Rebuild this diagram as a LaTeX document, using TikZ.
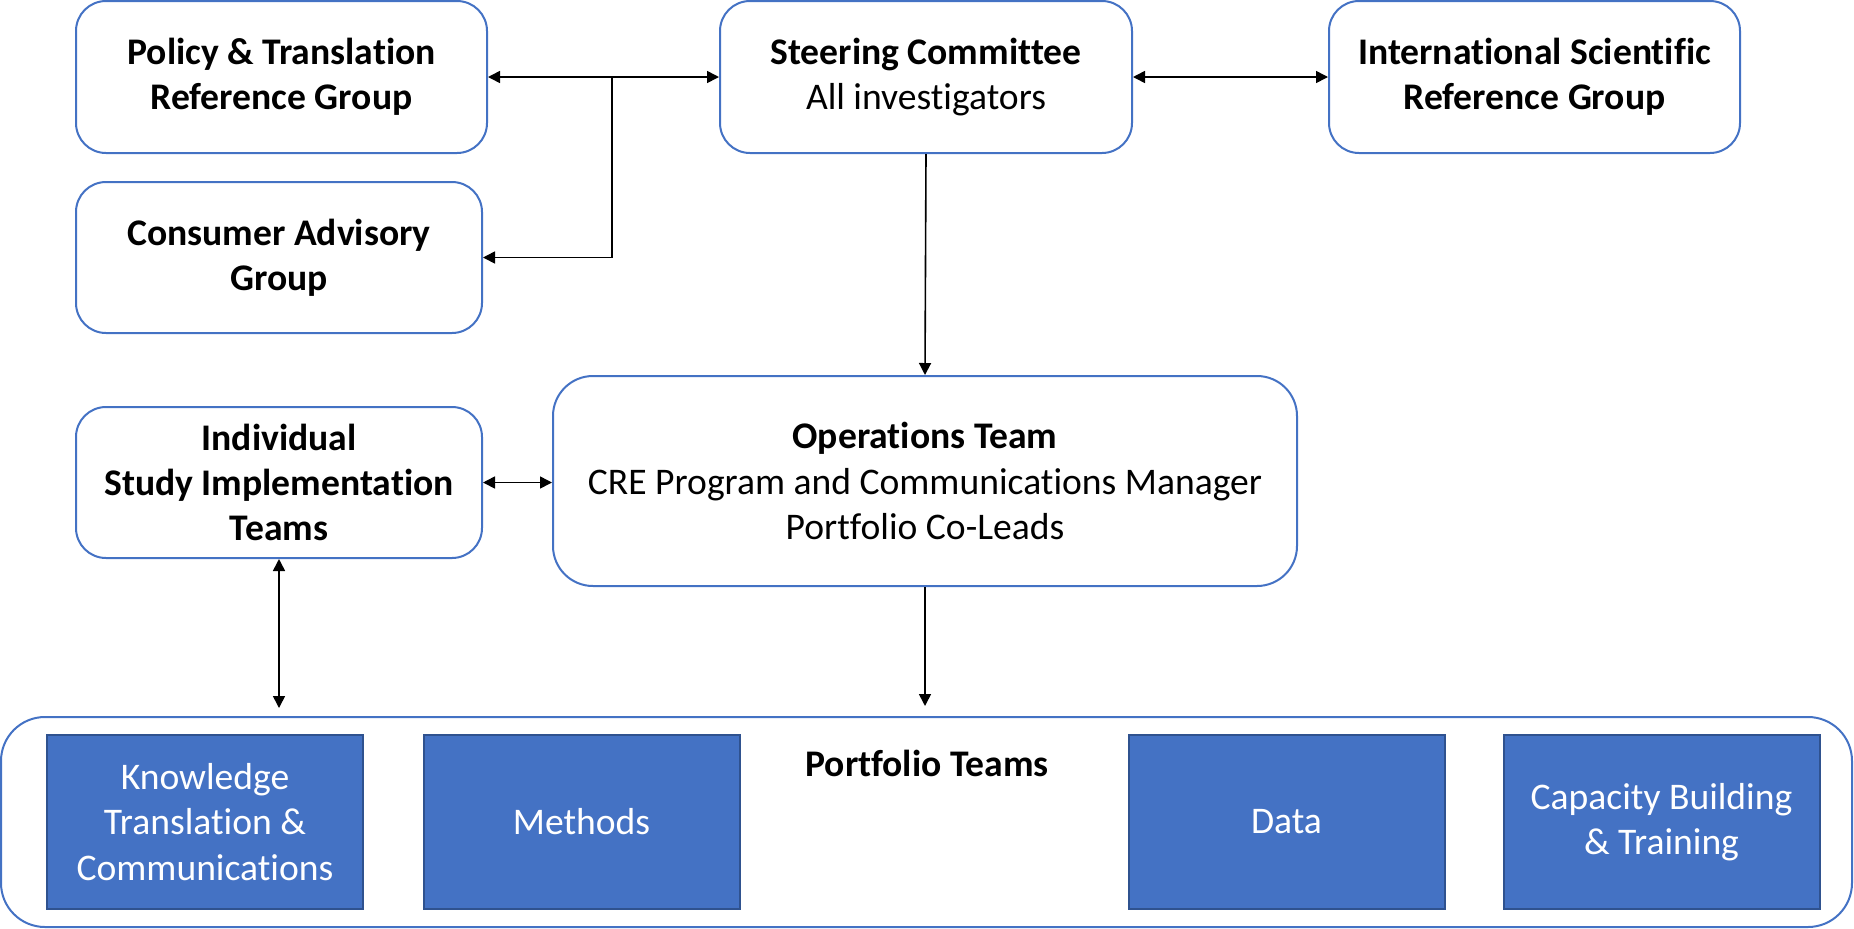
\documentclass[tikz,border=0pt]{standalone}
\usepackage{fontspec}
\setmainfont{Carlito}[Ligatures={NoCommon}]
\usetikzlibrary{arrows.meta}
\usetikzlibrary{positioning}

\definecolor{boxblue}{HTML}{4472C4}
\definecolor{darkblue}{HTML}{2F528F}

\tikzset{
  txt/.style={font=\fontsize{18.8pt}{22.6pt}\selectfont, align=center},
  group/.style={txt, draw=boxblue, line width=1pt, rounded corners=15pt, inner sep=0pt},
  team/.style={txt, draw=darkblue, fill=boxblue, text=white, line width=1pt,
    minimum width=158pt, minimum height=87pt, inner sep=0pt},
  link/.style={line width=0.8pt}
}

\begin{document}
\begin{tikzpicture}[x=0.5pt,y=-0.5pt,>={Triangle[length=6pt,width=6pt]}]
\useasboundingbox (0,0) rectangle (1854,928);
% top row
\node[group, minimum width=205.5pt, minimum height=76pt] (policy) at (281.5,77)
  {\textbf{Policy \& Translation}\\\textbf{Reference Group}};
\node[group, minimum width=206pt, minimum height=76pt] (steer) at (926,77)
  {\textbf{Steering Committee}\\All investigators};
\node[group, minimum width=205.5pt, minimum height=76pt] (intl) at (1534.5,77)
  {\textbf{International Scientific}\\\textbf{Reference Group}};
% left column
\node[group, minimum width=203pt, minimum height=75.5pt] (consumer) at (279,257.5)
  {\textbf{Consumer Advisory}\\\textbf{Group}};
\node[group, minimum width=203pt, minimum height=75.5pt] (indiv) at (279,482.5)
  {\textbf{Individual}\\\textbf{Study Implementation}\\\textbf{Teams}};
% operations
\node[group, rounded corners=20pt, minimum width=372pt, minimum height=105pt] (ops) at (925,481)
  {\textbf{Operations Team}\\CRE Program and Communications Manager\\Portfolio Co-Leads};
% portfolio teams
\node[group, rounded corners=22pt, minimum width=925.5pt, minimum height=105pt] (portfolio) at (926.5,822) {};
\node[txt] (ptitle) at (927,763) {\textbf{Portfolio Teams}};
\node[team] (kt) at (205,822) {Knowledge\\Translation \&\\Communications};
\node[team] (methods) at (581.5,822) {Methods};
\node[team] (data) at (1286.5,822) {Data};
\node[team] (capacity) at (1661.5,822) {Capacity Building\\\& Training};

% connectors
\coordinate (jn) at (612,77);
\coordinate (indivend) at (279,708);
\coordinate (opsend) at (925,706);
\draw[link,<->] (policy.east) -- (steer.west);
\draw[link,->] (jn) |- (consumer.east);
\draw[link,<->] (steer.east) -- (intl.west);
\draw[link,->] (steer.south) -- (ops.north);
\draw[link,<->] (indiv.east) -- (indiv.east -| ops.west);
\draw[link,<->] (indiv.south) -- (indivend);
\draw[link,->] (ops.south) -- (opsend);
\end{tikzpicture}
\end{document}
